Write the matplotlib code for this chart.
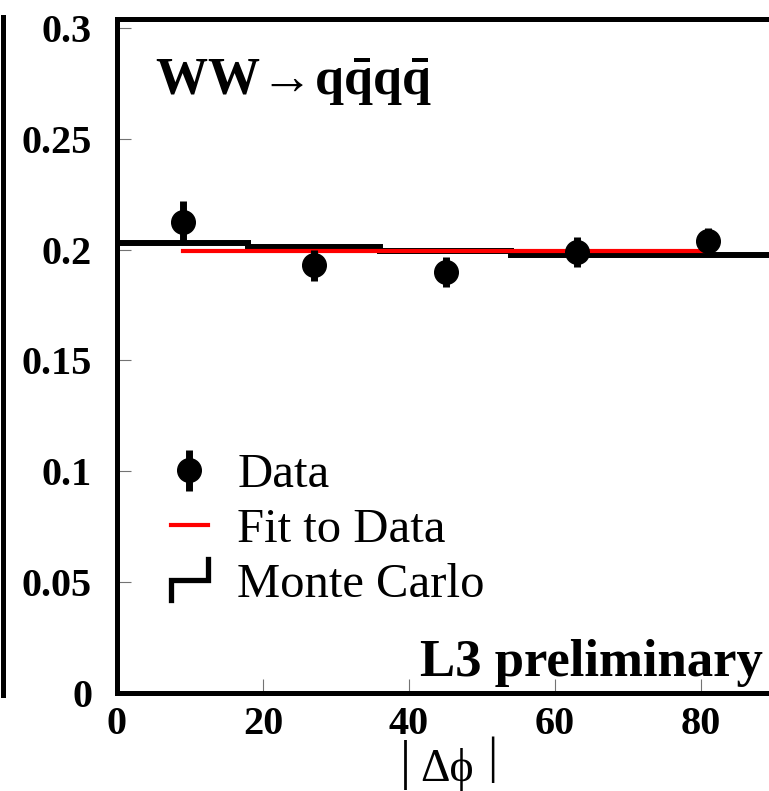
import numpy as np
import matplotlib
matplotlib.use('Agg')
import matplotlib.pyplot as plt
from matplotlib.lines import Line2D
from matplotlib.legend_handler import HandlerBase, HandlerErrorbar
from matplotlib.container import ErrorbarContainer

plt.rcParams['font.family'] = ['Liberation Serif', 'DejaVu Serif']
plt.rcParams['mathtext.fontset'] = 'custom'
plt.rcParams['mathtext.rm'] = 'Liberation Serif'
plt.rcParams['mathtext.bf'] = 'Liberation Serif:bold'

# data
data_x = [9, 27, 45, 63, 81]
data_y = [0.2125, 0.1930, 0.1898, 0.1988, 0.2040]
data_err = [0.0095, 0.0070, 0.0068, 0.0068, 0.0058]

mc_edges = [0, 18, 36, 54, 72, 90]
mc_vals = [0.2028, 0.2012, 0.1995, 0.1975, 0.1975]

fit_x = [9, 81]
fit_y = [0.1995, 0.1995]

xticks = [0, 20, 40, 60, 80]
yticks = [0, 0.05, 0.1, 0.15, 0.2, 0.25, 0.3]
ytick_labels = ['0', '0.05', '0.1', '0.15', '0.2', '0.25', '0.3']


class HandlerMC(HandlerBase):
    # ROOT style histogram symbol
    def create_artists(self, legend, orig_handle, xdescent, ydescent,
                       width, height, fontsize, trans):
        x0 = -xdescent
        ym = -ydescent + height / 2
        d = 0.6 * height
        ln = Line2D([x0, x0, x0 + width, x0 + width],
                    [ym - d, ym, ym, ym + d],
                    color='black', lw=3.8, solid_joinstyle='miter',
                    transform=trans)
        return [ln]


W, H = 769, 791
fig = plt.figure(figsize=(W / 100, H / 100), dpi=100)

# edge of the neighbouring panel, cut off on the left
ax0 = fig.add_axes([2.5 / W - 0.3, (H - 695) / H, 0.3, (695 - 17) / H])
for s in ['left', 'top', 'bottom']:
    ax0.spines[s].set_visible(False)
ax0.spines['right'].set_linewidth(3.6)
ax0.set_xticks([])
ax0.set_yticks([])
ax0.patch.set_alpha(0)

ax = fig.add_axes([117 / W, (H - 693) / H, (774 - 117) / W, (693 - 19) / H])

eb = ax.errorbar(data_x, data_y, yerr=data_err, fmt='o', color='black',
                 ms=17, elinewidth=5, capsize=0, zorder=5)
ax.stairs(mc_vals, mc_edges, baseline=None, color='black', lw=4.3, zorder=3)
fit_line, = ax.plot(fit_x, fit_y, color='#ff0000', lw=3, zorder=4)

ax.set_xlim(0, 90)
ax.set_ylim(0, 0.304)
ax.set_xticks(xticks)
ax.set_xticklabels([str(t) for t in xticks])
ax.set_yticks(yticks)
ax.set_yticklabels(ytick_labels)
ax.tick_params(direction='in', length=10, width=0.8, color='0.45',
               labelsize=29)
ax.tick_params(axis='y', pad=18)
ax.tick_params(axis='x', pad=9)
for lab in ax.get_xticklabels() + ax.get_yticklabels():
    lab.set_fontweight('bold')
for s in ['left', 'bottom', 'top', 'right']:
    ax.spines[s].set_linewidth(3.6)

mc_proxy = Line2D([], [], color='black')
leg = ax.legend([eb, fit_line, mc_proxy], ['Data', 'Fit to Data', 'Monte Carlo'],
                handler_map={ErrorbarContainer: HandlerErrorbar(yerr_size=0.42),
                             mc_proxy: HandlerMC()},
                loc='center left', bbox_to_anchor=(171 / W, 1 - 530 / H),
                bbox_transform=fig.transFigure, frameon=False,
                fontsize=35, borderpad=0, borderaxespad=0,
                handlelength=0.76, handletextpad=0.6, labelspacing=0.22)

fig.text(155 / W, 1 - 95 / H,
         r'$\mathbf{WW}\!\rightarrow\!\mathbf{q\bar{q}q\bar{q}}$',
         fontsize=37.5, ha='left', va='baseline')
fig.text(763 / W, 1 - 676 / H, 'L3 preliminary', fontsize=38,
         fontweight='bold', ha='right', va='baseline')

# x axis title |dphi|
fig.text(405 / W, 1 - 778 / H, '|', fontsize=39, ha='center', va='baseline')
fig.text(447 / W, 1 - 781 / H, 'Δϕ', fontsize=33, ha='center', va='baseline')
fig.text(492 / W, 1 - 772 / H, '|', fontsize=37, ha='center', va='baseline')

fig.savefig('out.png', dpi=100)
